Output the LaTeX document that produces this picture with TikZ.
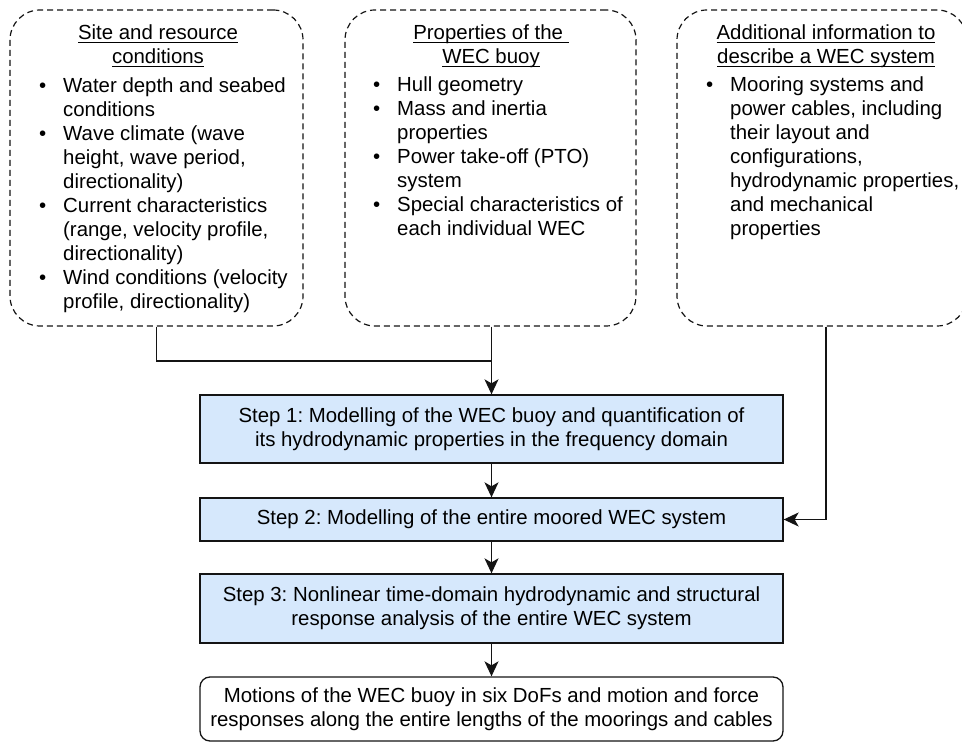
\documentclass[tikz,border=0pt]{standalone}
\usepackage{fontspec}
\setmainfont{Liberation Sans}
\usetikzlibrary{arrows.meta}
\definecolor{stepfill}{RGB}{214,232,252}
\definecolor{linecol}{RGB}{20,20,20}
\tikzset{
  infobox/.style={draw=linecol, line width=1.2pt, dash pattern=on 6pt off 4pt, rounded corners=30pt, minimum width=#1, minimum height=316pt, inner sep=0pt},
  stepbox/.style={draw=linecol, fill=stepfill, line width=1.3pt, minimum width=583pt, inner sep=0pt, align=center, font=\mytext},
  outbox/.style={draw=linecol, line width=1.3pt, rounded corners=10pt, minimum width=583pt, minimum height=64pt, inner sep=0pt, align=center, font=\mytext},
  ttl/.style={anchor=base, inner sep=0pt, align=center, font=\mytext},
  lst/.style={anchor=base west, inner sep=0pt, font=\mytext},
  arr/.style={draw=linecol, line width=1.4pt, -{Stealth[length=15pt,width=14pt,inset=4pt]}},
  conn/.style={draw=linecol, line width=1.4pt}
}
\newcommand{\mytext}{\fontsize{20.4pt}{24pt}\selectfont\frenchspacing}
\newcommand{\bl}{\textbullet}
\newcommand{\ulx}[1]{\mbox{\setbox0=\hbox{#1}\rlap{\rule[-3.2pt]{\wd0}{1.1pt}}\box0}}
\begin{document}
\begin{tikzpicture}[x=1pt,y=-1pt]
\useasboundingbox (0,0) rectangle (962,743);
\begin{scope}
\clip (0,0) rectangle (962,743);
% top boxes
\node[infobox=293pt] (box1) at (156.5,168) {};
\node[infobox=291pt] (box2) at (490.5,168) {};
\node[infobox=290pt] (box3) at (822,168) {};
\end{scope}
% box 1 text
\node[ttl] (t1a) at (158,40) {\ulx{Site and resource}};
\node[ttl] (t1b) at (158,64) {\ulx{conditions}};
\node[lst] (l1) at (39,93) {\begin{tabular}[t]{@{}p{24pt}@{}l@{}}
\bl & Water depth and seabed\\
 & conditions\\
\bl & Wave climate (wave\\
 & height, wave period,\\
 & directionality)\\
\bl & Current characteristics\\
 & (range, velocity profile,\\
 & directionality)\\
\bl & Wind conditions (velocity\\
 & profile, directionality)
\end{tabular}};
% box 2 text
\node[ttl] (t2a) at (491,40) {\ulx{Properties of the\ }};
\node[ttl] (t2b) at (491,64) {\ulx{WEC buoy}};
\node[lst] (l2) at (373,92) {\begin{tabular}[t]{@{}p{24pt}@{}l@{}}
\bl & Hull geometry\\
\bl & Mass and inertia\\
 & properties\\
\bl & Power take-off (PTO)\\
 & system\\
\bl & Special characteristics of\\
 & each individual WEC
\end{tabular}};
% box 3 text
\node[ttl] (t3a) at (826,40) {\ulx{Additional information to}};
\node[ttl] (t3b) at (826,64) {\ulx{describe a WEC system}};
\node[lst] (l3) at (706,92) {\begin{tabular}[t]{@{}p{24pt}@{}l@{}}
\bl & Mooring systems and\\
 & power cables, including\\
 & their layout and\\
 & configurations,\\
 & hydrodynamic properties,\\
 & and mechanical\\
 & properties
\end{tabular}};
% steps
\node[stepbox, minimum height=68pt] (step1) at (491.5,429) {Step 1: Modelling of the WEC buoy and quantification of\\its hydrodynamic properties in the frequency domain};
\node[stepbox, minimum height=43pt] (step2) at (491.5,519.5) {Step 2: Modelling of the entire moored WEC system};
\node[stepbox, minimum height=69pt] (step3) at (491.5,608.5) {Step 3: Nonlinear time-domain hydrodynamic and structural\\response analysis of the entire WEC system};
\node[outbox] (out) at (491.5,709) {Motions of the WEC buoy in six DoFs and motion and force\\responses along the entire lengths of the moorings and cables};
% connectors
\coordinate (j1) at (491.5,361);
\draw[conn] (box1.south) |- (j1);
\draw[arr] (step1.north |- box2.south) -- (step1.north);
\draw[arr] ([xshift=4pt]box3.south) |- (step2.east);
\draw[arr] (step1.south) -- (step2.north);
\draw[arr] (step2.south) -- (step3.north);
\draw[arr] (step3.south) -- (out.north);
\end{tikzpicture}
\end{document}
